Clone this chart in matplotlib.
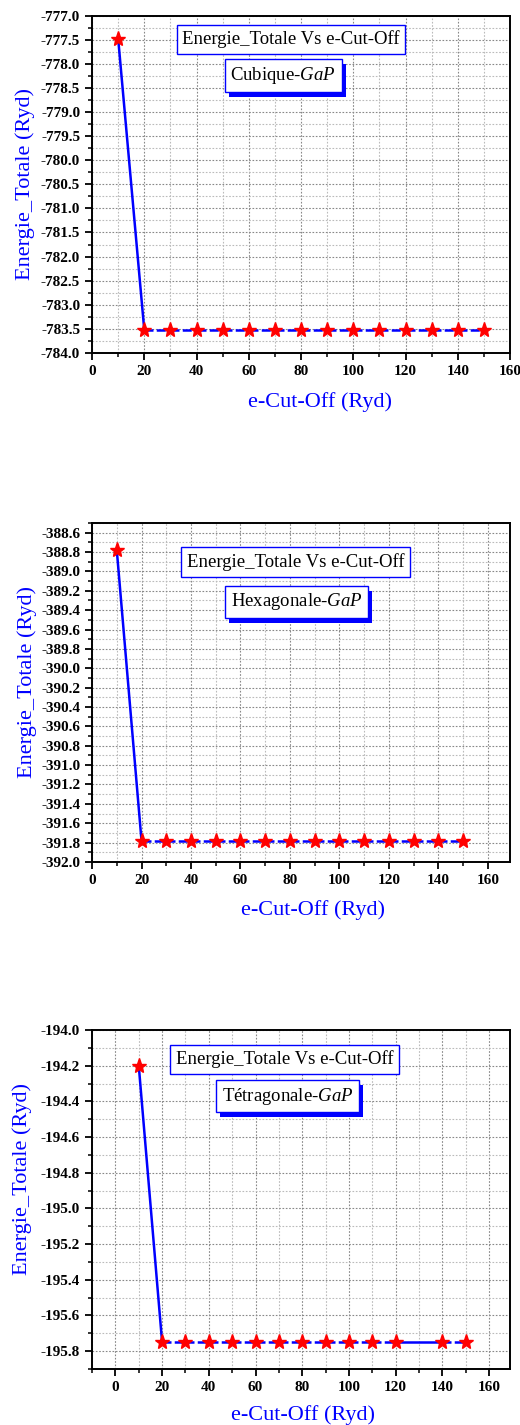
import matplotlib
matplotlib.use("Agg")
import matplotlib.pyplot as plt
import matplotlib.patheffects as pe
from matplotlib.ticker import MultipleLocator, FormatStrFormatter

plt.rcParams['font.family'] = ['Liberation Serif', 'DejaVu Serif']
plt.rcParams['font.weight'] = 'bold'  # tick labels are bold
plt.rcParams['axes.unicode_minus'] = False
plt.rcParams['mathtext.fontset'] = 'custom'
plt.rcParams['mathtext.rm'] = 'Liberation Serif:weight=normal'
plt.rcParams['mathtext.it'] = 'Liberation Serif:style=italic:weight=normal'

# energy convergence vs cut-off for the three GaP phases
cut_cub = [10, 20, 30, 40, 50, 60, 70, 80, 90, 100, 110, 120, 130, 140, 150]
e_cub = [-777.48, -783.53, -783.53, -783.53, -783.53, -783.53, -783.53, -783.53,
         -783.53, -783.53, -783.53, -783.53, -783.53, -783.53, -783.53]

cut_hex = [10, 20, 30, 40, 50, 60, 70, 80, 90, 100, 110, 120, 130, 140, 150]
e_hex = [-388.78, -391.78, -391.78, -391.78, -391.78, -391.78, -391.78, -391.78,
         -391.78, -391.78, -391.78, -391.78, -391.78, -391.78, -391.78]

cut_tet = [10, 20, 30, 40, 50, 60, 70, 80, 90, 100, 110, 120, 140, 150]
e_tet = [-194.20, -195.75, -195.75, -195.75, -195.75, -195.75, -195.75, -195.75,
         -195.75, -195.75, -195.75, -195.75, -195.75, -195.75]

panels = [
    dict(x=cut_cub, y=e_cub, phase="Cubique-", xlim=(0, 160), ylim=(-784.0, -777.0),
         ymaj=0.5, ymin=0.25, rect=[0.177, 0.7523, 0.804, 0.2368],
         box1=(0.476, 0.929), box2=(0.457, 0.822),
         xlab=(0.545, -0.117), ylab=(-0.136, 0.5)),
    dict(x=cut_hex, y=e_hex, phase="Hexagonale-", xlim=(0, 169), ylim=(-392.0, -388.5),
         ymaj=0.2, ymin=0.1, rect=[0.177, 0.3951, 0.804, 0.2379],
         box1=(0.487, 0.885), box2=(0.489, 0.767),
         xlab=(0.529, -0.113), ylab=(-0.132, 0.531)),
    dict(x=cut_tet, y=e_tet, phase="Tétragonale-", xlim=(-10, 169), ylim=(-195.9, -194.0),
         ymaj=0.2, ymin=0.1, rect=[0.177, 0.0393, 0.804, 0.2379],
         box1=(0.46, 0.914), box2=(0.468, 0.805),
         xlab=(0.504, -0.107), ylab=(-0.144, 0.56)),
]

fig = plt.figure(figsize=(5.2, 14.25), dpi=100)

for p in panels:
    ax = fig.add_axes(p['rect'])
    x, y = p['x'], p['y']
    # drop and gaps drawn solid, the plateau dashed
    for i in range(len(x) - 1):
        solid = i == 0 or x[i + 1] - x[i] > 10
        ax.plot(x[i:i + 2], y[i:i + 2], color='blue', lw=1.8,
                ls='-' if solid else (0, (3.6, 1.3)), zorder=2)
    ax.plot(x, y, ls='none', marker='*', ms=11, color='red', mec='red', zorder=3)

    ax.set_xlim(p['xlim'])
    ax.set_ylim(p['ylim'])
    ax.xaxis.set_major_locator(MultipleLocator(20))
    ax.xaxis.set_minor_locator(MultipleLocator(10))
    ax.yaxis.set_major_locator(MultipleLocator(p['ymaj']))
    ax.yaxis.set_minor_locator(MultipleLocator(p['ymin']))
    ax.yaxis.set_major_formatter(FormatStrFormatter('%.1f'))

    ax.grid(True, which='major', color='#888888', ls=(0, (1.5, 1.5)), lw=0.8)
    ax.grid(True, which='minor', color='#bbbbbb', ls=(0, (1.5, 1.5)), lw=0.8)
    ax.set_axisbelow(True)

    for s in ax.spines.values():
        s.set_linewidth(1.4)
    ax.tick_params(which='major', direction='out', length=5, width=1.3,
                   labelsize=11, top=False, right=False)
    ax.tick_params(which='minor', direction='out', length=3, width=1.1,
                   top=False, right=False)

    ax.set_xlabel("e-Cut-Off (Ryd)", color='blue', fontsize=16, fontweight='normal')
    ax.set_ylabel("Energie_Totale (Ryd)", color='blue', fontsize=16, fontweight='normal')
    ax.xaxis.set_label_coords(*p['xlab'])
    ax.yaxis.set_label_coords(*p['ylab'])

    ax.text(p['box1'][0], p['box1'][1], "Energie_Totale Vs e-Cut-Off",
            transform=ax.transAxes, ha='center', va='center', fontsize=13.5,
            fontweight='normal',
            bbox=dict(boxstyle='square,pad=0.3', fc='white', ec='blue', lw=1.0),
            zorder=5)
    t = ax.text(p['box2'][0], p['box2'][1], p['phase'] + r"$\mathit{GaP}$",
                transform=ax.transAxes, ha='center', va='center', fontsize=13.5,
                fontweight='normal',
                bbox=dict(boxstyle='square,pad=0.3', fc='white', ec='blue', lw=1.0),
                zorder=5)
    t.get_bbox_patch().set_path_effects([
        pe.SimplePatchShadow(offset=(3, -3.5), shadow_rgbFace='blue', alpha=1.0),
        pe.Normal()])

fig.savefig("out.png", dpi=100)
